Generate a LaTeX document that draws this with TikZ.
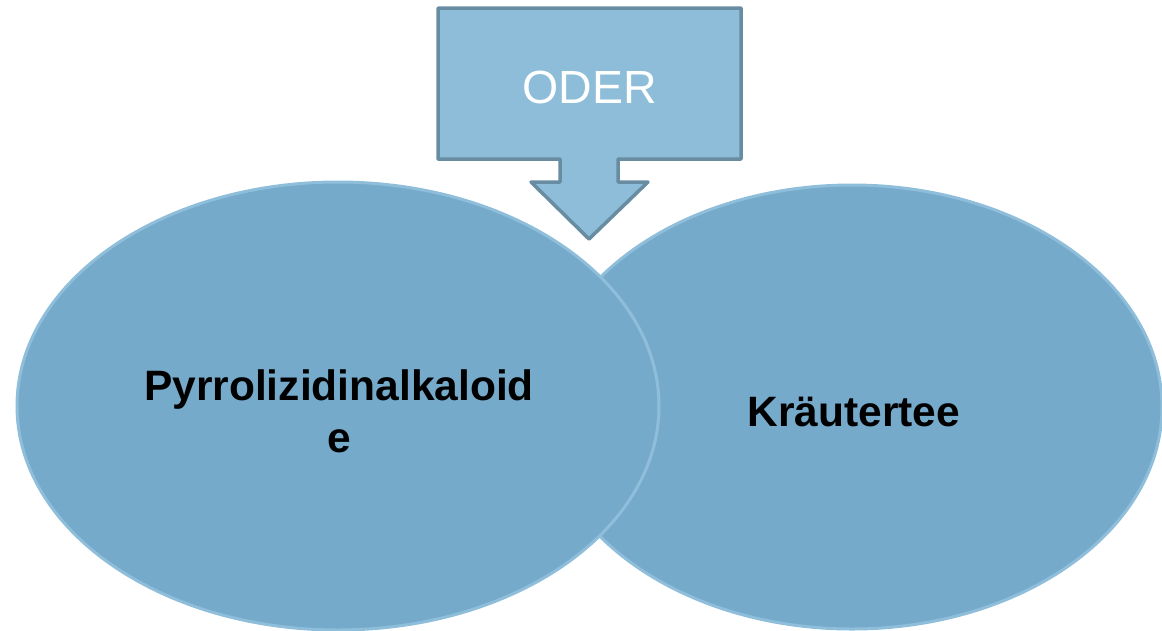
\documentclass[tikz,border=0pt]{standalone}
\usepackage{fontspec}
\setmainfont{Liberation Sans}
\usetikzlibrary{shapes.geometric}
\definecolor{ellfill}{RGB}{118,170,203}
\definecolor{ellline}{RGB}{143,190,219}
\definecolor{arrfill}{RGB}{141,189,216}
\definecolor{arrline}{RGB}{104,140,161}
\tikzset{
  oval/.style={ellipse, fill=ellfill, draw=ellline, line width=3pt, inner sep=0pt},
  lbl/.style={font=\fontsize{42.5}{52}\selectfont\bfseries, text=black, align=center},
  arrowbox/.style={fill=arrfill, draw=arrline, line width=3.5pt, line join=round}
}
\begin{document}
\begin{tikzpicture}[x=1pt,y=-1pt]
\useasboundingbox (0,0) rectangle (1162,630);
\clip (0,0) rectangle (1162,630);
% right ellipse (behind)
\node[oval, minimum width=620pt, minimum height=444pt] (right) at (852,407) {};
% left ellipse (front)
\node[oval, minimum width=642pt, minimum height=448pt] (left) at (338,406) {};
\node[lbl] (lt) at (339,411) {Pyrrolizidinalkaloid\\e};
\node[lbl] (rt) at (854,412) {Kräutertee};
% arrow callout
\draw[arrowbox] (438,8) -- (741,8) -- (741,159) -- (618,159) -- (618,182) -- (648,182)
  -- (589,239) -- (531,182) -- (560,182) -- (560,159) -- (438,159) -- cycle;
\node[font=\fontsize{46.5}{50}\selectfont, text=white] (oder) at (589.5,87) {ODER};
\end{tikzpicture}
\end{document}
